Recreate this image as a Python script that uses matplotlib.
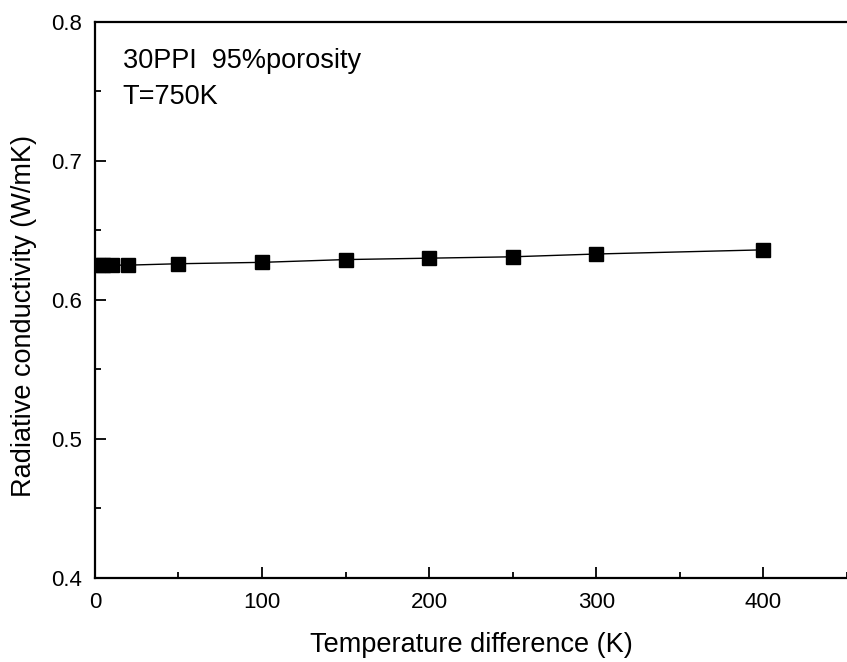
import matplotlib
matplotlib.use("Agg")
import matplotlib.pyplot as plt
from matplotlib.ticker import MultipleLocator

plt.rcParams['font.family'] = ['Liberation Sans', 'DejaVu Sans']

temp_diff = [2, 5, 10, 20, 50, 100, 150, 200, 250, 300, 400]
conductivity = [0.625, 0.625, 0.625, 0.625, 0.626, 0.627, 0.629, 0.630, 0.631, 0.633, 0.636]

fig = plt.figure(figsize=(8.47, 6.62), dpi=100)
ax = fig.add_axes([0.112, 0.127, 0.888, 0.840])
ax.plot(temp_diff, conductivity, color='black', lw=1.0, marker='s', markersize=9.5,
        markerfacecolor='black', markeredgecolor='black')
ax.set_xlim(0, 450)
ax.set_ylim(0.4, 0.8)
ax.xaxis.set_major_locator(MultipleLocator(100))
ax.xaxis.set_minor_locator(MultipleLocator(50))
ax.yaxis.set_major_locator(MultipleLocator(0.1))
ax.yaxis.set_minor_locator(MultipleLocator(0.05))
ax.tick_params(which='both', direction='in', labelsize=16, width=1.3)
ax.tick_params(which='major', length=8)
ax.tick_params(which='minor', length=4.5)
ax.tick_params(axis='x', pad=10)
ax.tick_params(axis='y', pad=9)
for s in ax.spines.values():
    s.set_linewidth(1.6)
ax.spines['right'].set_visible(False)
ax.set_xlabel('Temperature difference (K)', fontsize=19.5, labelpad=14)
ax.set_ylabel('Radiative conductivity (W/mK)', fontsize=19.5)
ax.yaxis.set_label_coords(-0.0765, 0.471)
ax.text(0.037, 0.917, '30PPI  95%porosity', transform=ax.transAxes,
        fontsize=19.5, va='baseline', ha='left')
ax.text(0.037, 0.853, 'T=750K', transform=ax.transAxes,
        fontsize=19.5, va='baseline', ha='left')
fig.savefig('out.png', dpi=100)
